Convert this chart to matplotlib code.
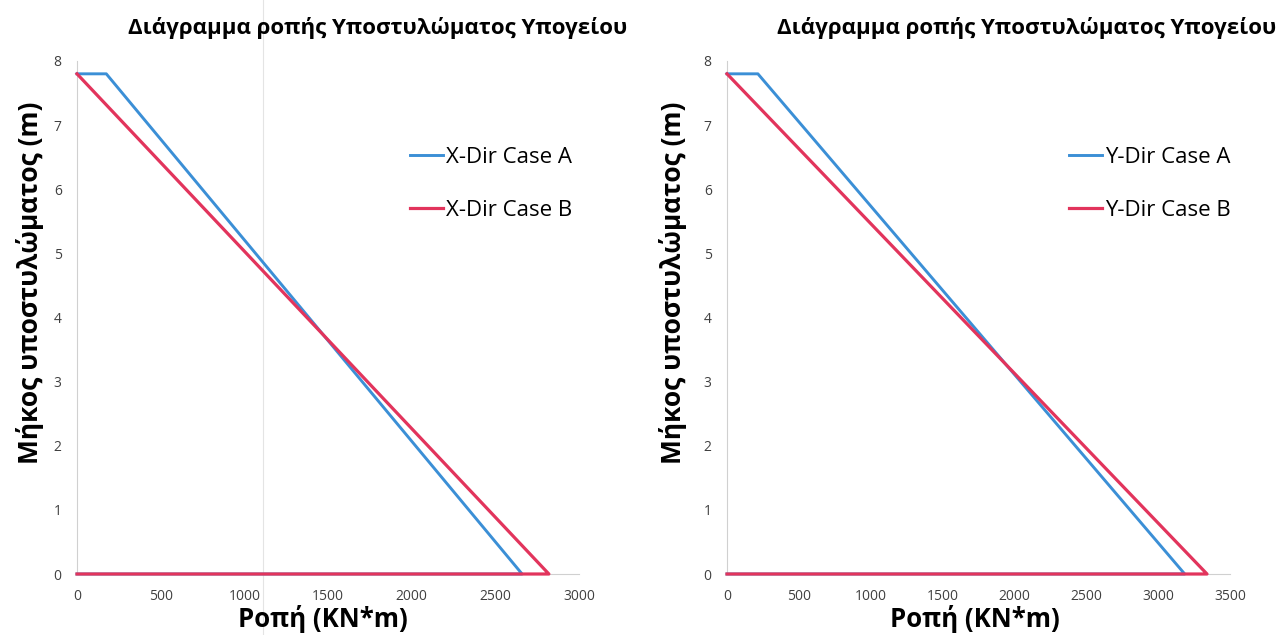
import matplotlib
matplotlib.use('Agg')
import matplotlib.pyplot as plt
from matplotlib.lines import Line2D

plt.rcParams['font.family'] = ['Open Sans', 'DejaVu Sans']

# Werte
x_case_a = [0, 175, 2660, 0]
y_case_a = [7.8, 7.8, 0, 0]
x_case_b = [0, 2820, 0]
y_case_b = [7.8, 0, 0]

y_dir_a_x = [0, 215, 3185, 0]
y_dir_a_y = [7.8, 7.8, 0, 0]
y_dir_b_x = [0, 3340, 0]
y_dir_b_y = [7.8, 0, 0]

titel = 'Διάγραμμα ροπής Υποστυλώματος Υπογείου'
ylabel = 'Μήκος υποστυλώματος (m)'
xlabel = 'Ροπή (KN*m)'

blau = '#3b8fd6'
rot = '#e2345c'
W, H = 1282, 635

fig = plt.figure(figsize=(W / 100, H / 100), dpi=100)


def panel(x0, x1, xmax, xa, ya, xb, yb, labels, leg_x, title_x, ylab_x, xlab_x):
    ax = fig.add_axes([x0 / W, 61 / H, (x1 - x0) / W, (574 - 61) / H])
    ax.set_facecolor('none')
    ax.plot(xa, ya, color=blau, lw=2.1, label=labels[0], clip_on=False, zorder=3)
    ax.plot(xb, yb, color=rot, lw=2.3, label=labels[1], clip_on=False, zorder=4)
    ax.set_xlim(0, xmax)
    ax.set_ylim(0, 8)
    ax.set_xticks(range(0, xmax + 1, 500))
    ax.set_yticks(range(0, 9))
    ax.tick_params(length=0, labelsize=10, colors='#404040', pad=11)
    for s in ['top', 'right']:
        ax.spines[s].set_visible(False)
    for s in ['left', 'bottom']:
        ax.spines[s].set_color('#d0d0d0')
        ax.spines[s].set_linewidth(0.8)
    ax.legend(loc='upper left', bbox_to_anchor=(leg_x / W, 1 - 147 / H),
              bbox_transform=fig.transFigure, frameon=False, fontsize=16,
              handlelength=1.5, handletextpad=0.1, labelspacing=1.45,
              borderpad=0, borderaxespad=0)
    fig.text(title_x / W, 1 - 28 / H, titel, ha='center', va='center',
             fontsize=16, fontweight='bold')
    fig.text(ylab_x / W, 1 - 283 / H, ylabel, ha='center', va='center',
             rotation=90, fontsize=19, fontweight='bold')
    fig.text(xlab_x / W, 1 - 619 / H, xlabel, ha='center', va='center',
             fontsize=18.5, fontweight='bold')
    return ax


panel(77, 579, 3000, x_case_a, y_case_a, x_case_b, y_case_b,
      ['X-Dir Case A', 'X-Dir Case B'], 410, 378, 30, 323)
panel(727, 1230, 3500, y_dir_a_x, y_dir_a_y, y_dir_b_x, y_dir_b_y,
      ['Y-Dir Case A', 'Y-Dir Case B'], 1069, 1027, 673, 975)

# feine senkrechte Linie aus dem Scan
fig.add_artist(Line2D([263 / W, 263 / W], [0, 1], color='#e4e4e4', lw=0.8,
                      transform=fig.transFigure, zorder=-1))

plt.savefig('out.png', dpi=100)
